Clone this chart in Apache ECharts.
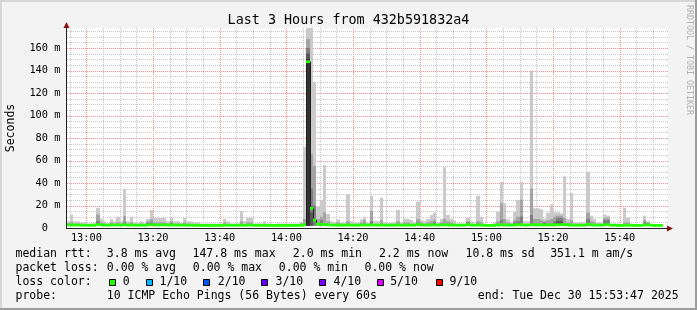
<!DOCTYPE html>
<html>
<head>
<meta charset="utf-8">
<script src="https://cdn.jsdelivr.net/npm/echarts@6/dist/echarts.min.js"></script>
<style>
html,body{margin:0;padding:0;background:#f3f3f3;}
#chart{width:697px;height:310px;}
</style>
</head>
<body>
<div id="chart"></div>
<script>
// ---------------- data (minutes relative to 13:00, one bucket per minute) ----------------
const startMinute = -6;           // first bucket 12:54
const rttLow = [
1.9,1.9,1.9,1.9,1.9,1.9,
1.9,1.9,1.9,1.9,1.9,1.9,1.9,1.9,1.9,1.9,
1.9,1.9,1.9,1.9,1.9,1.9,1.9,1.9,1.9,1.9,
1.9,1.9,1.9,1.9,1.9,1.9,1.9,1.9,1.9,1.9,
1.9,1.9,1.9,1.9,1.9,1.9,1.9,1.9,1.9,1.9,
1.9,1.9,1.9,1.9,1.9,1.9,1.9,1.9,1.9,1.9,
1.9,1.9,1.9,1.9,1.9,1.9,1.9,1.9,1.9,1.9,
1.9,1.9,1.9,1.9,1.9,1.9,2.0,2.0,2.0,1.9,
1.9,1.9,1.9,1.9,1.9,1.9,1.9,1.9,1.9,1.9,
1.9,1.9,1.9,1.9,1.9,1.9,1.9,1.9,1.9,1.9,
1.9,1.9,1.9,1.9,1.9,1.9,1.9,1.9,1.9,1.9,
1.9,1.9,1.9,1.9,1.9,1.9,1.9,1.9,1.9,1.9,
1.9,1.9,1.9,1.9,1.9,1.9,1.9,1.9,1.9,1.9,
1.9,1.9,1.9,1.9,1.9,1.9,1.9,1.9,1.9,1.9,
1.9,1.9,1.9,1.9,1.9,1.9,1.9,1.9,1.9,1.9,
1.9,1.9,1.9,1.9,1.9,1.9,1.9,1.9,1.9,1.9,
1.9,1.9,1.9,1.9,1.9,1.9,1.9,1.9,1.9,1.9,
1.9,1.9,1.9,1.9,1.9,1.9,1.9,1.9,1.9,1.9,
1.9,1.9,1.9,null];
const rttHigh = [
6,12,6,6,5,5,
4,4,4.5,18,8,6,4.5,8,6,10,
6,34.7,6,10,5,4.5,6,4.5,8,16,
9,9,9,9,6,9.5,6,6,4.5,9,
6,6,5,5,4,4,4,4,4,4,
4,8,6,4,4,4,15,6,9,9,
4,4,4,6,4,4,3.5,4,4,4,
4,4,4,4,5,72,178,178,130,19,
25,56,12.6,6,5,7.7,5,5,30,6,
5,5,7.7,9.7,5,28.7,6,6,27,5,
4.5,5,5,16,5,8,8,7,5,23.4,
7,6,8,11.6,13.6,5,8,54,11.6,8,
6.7,4,4,4,9,6,4,28.7,10,4,
3.5,3.5,5,14.5,41,22,7.7,5,14.5,25,
41,6,6,140,17.5,17.5,16.6,8,13.6,21,
14,14,13,46,8,31,5,5,5,5,
50,11,8,5,5,12,11,4,4,4,
3.5,18,9,4,3.5,3.5,3.5,11,6,4,
3.5,3.5,3.5,null];
const rttMid = [
4,5,4,4,3.5,3.5,
null,null,null,12,5,4,null,5,4,5,
4,10.5,4,5,null,null,4,null,6,8,
5,5,5,5,4,6,4,4,null,5,
4,null,null,null,null,null,null,null,null,null,
null,5,null,null,null,null,6,null,5,5,
null,null,null,null,null,null,null,null,null,null,
null,null,null,null,4,8,168,66,55,8,
10,14,6,null,null,5,null,null,6,null,
null,null,5,7,null,15,null,null,7,null,
null,null,null,6,null,5,5,null,null,8,
5,null,5,6,7,null,5,8,6,5,
null,null,null,null,6,null,null,6,5,null,
null,null,null,6,22,8,5,null,7,10,
25,null,null,35,8,8,7,6,7,8,
10,11,11,9,5,7,null,null,null,null,
13.6,6,5,null,null,9,9,null,null,null,
null,5,5,null,null,null,null,7,5,null,
null,null,null,null];
const rttMedian = [
2.8,2.8,2.6,2.6,2.5,2.5,
2.4,2.4,2.5,3.0,2.7,2.6,2.5,2.8,2.6,2.7,
2.6,2.9,2.6,2.7,2.5,2.5,2.5,2.4,2.7,3.0,
2.7,2.7,2.8,2.7,2.6,2.8,2.6,2.6,2.5,2.7,
2.5,2.5,2.4,2.4,2.3,2.3,2.3,2.3,2.3,2.3,
2.3,2.6,2.5,2.4,2.4,2.5,2.6,2.4,2.6,2.6,
2.4,2.4,2.4,2.4,2.3,2.3,2.3,2.3,2.3,2.3,
2.3,2.3,2.3,2.3,2.4,3.0,147.8,17.5,7,3.5,
3.2,3.0,2.8,2.6,2.6,2.6,2.5,2.5,2.7,2.5,
2.5,2.5,2.6,2.7,2.6,2.8,2.6,2.6,2.7,2.5,
2.5,2.5,2.5,2.7,2.5,2.6,2.6,2.6,2.5,3.2,
2.7,2.6,2.6,2.7,2.8,2.6,2.7,2.8,2.7,2.6,
2.6,2.5,2.5,2.5,3.0,2.6,2.5,2.7,2.6,2.4,
2.3,2.3,2.4,2.6,2.9,2.7,2.6,2.5,2.7,2.9,
3.0,2.6,2.6,3.0,2.8,2.8,2.7,2.7,2.7,2.8,
2.8,2.9,3.0,2.9,2.7,2.7,2.5,2.5,2.5,2.5,
3.3,2.7,2.6,2.5,2.5,2.9,3.0,2.4,2.4,2.3,
2.3,2.5,2.5,2.3,2.3,2.3,2.3,2.8,2.7,2.4,
2.3,2.3,2.3,null];
// darker smoke layers (sparse: minute -> top value)
const p8Minutes = [3,11,18,19,25,66,67,68,70,85,99,104,114,124,128,129,130,133,137,140,141,142,150,155,156,167,168];
const p8Values  = [6,5,4.5,5,4.5,160,35,20,7,6,5,5,5,7,5,6,10,11.6,5,6,9,9,8,7,7,5,4];
const p7Minutes = [66,67,141,142];
const p7Values  = [155,14,6,6];
const p6Minutes = [66];
const p6Values  = [150];

const xTickMinutes = [0,20,40,60,80,100,120,140,160];
const xTickLabels = ['13:00','13:20','13:40','14:00','14:20','14:40','15:00','15:20','15:40'];
const yTicks = [0,20,40,60,80,100,120,140,160];

const titleText = 'Last 3 Hours from 432b591832a4';
const statsRtt  = ['median rtt:','3.8 ms avg','147.8 ms max','2.0 ms min','2.2 ms now','10.8 ms sd','351.1 m am/s'];
const statsLoss = ['packet loss:','0.00 % avg','0.00 % max','0.00 % min','0.00 % now'];
const lossLabels = ['0','1/10','2/10','3/10','4/10','5/10','9/10'];
const lossColors = ['#26ff00','#00b8ff','#0059ff','#5e00ff','#7e00ff','#dd00ff','#ff0000'];
const probeText = ['probe:','10 ICMP Echo Pings (56 Bytes) every 60s','end: Tue Dec 30 15:53:47 2025'];

// ---------------- layout / style ----------------
const FONT = '"DejaVu Sans Mono", monospace';
const yMax = 177.78;
const xMin = -6, xMax = 174.3;
const smokeColors = ['#cacaca','#a4a4a4','#7e7e7e','#585858','#323232'];
const medianHalf = yMax / 200 * 1.4;

const times = rttHigh.map((_, i) => startMinute + i);
function sparse(mins, vals) {
  const a = times.map(() => null);
  mins.forEach((m, k) => { a[m - startMinute] = vals[k]; });
  return a;
}
const p8 = sparse(p8Minutes, p8Values), p7 = sparse(p7Minutes, p7Values), p6 = sparse(p6Minutes, p6Values);
const smokeData = times.map((t, i) => [t, rttLow[i], rttHigh[i], rttMid[i], p8[i], p7[i], p6[i]]);
const medianData = times.map((t, i) => [t, rttMedian[i], i > 0 ? rttMedian[i - 1] : null]);

const gridData = [];
for (let m = -5; m <= 170; m += 5) gridData.push([m, 0, xTickMinutes.indexOf(m) >= 0 ? 1 : 0]);
for (let v = 5; v <= 175; v += 5) gridData.push([xMin, v, yTicks.indexOf(v) >= 0 ? 3 : 2]);

function bucketX(api, cs, t) {
  const xa = Math.round(api.coord([t, 0])[0]);
  const xb = Math.round(api.coord([t + 1, 0])[0]);
  return [Math.max(xa, Math.floor(cs.x) + 1), Math.min(xb, Math.floor(cs.x + cs.width) + 1)];
}

function renderSmoke(params, api) {
  const cs = params.coordSys;
  const t = api.value(0), lo = api.value(1);
  if (isNaN(lo)) return;
  const [l, r] = bucketX(api, cs, t);
  if (r <= l) return;
  const yBot = api.coord([t, lo])[1];
  const children = [];
  for (let k = 0; k < smokeColors.length; k++) {
    const v = api.value(2 + k);
    if (v == null || isNaN(v)) continue;
    const yTop = Math.max(cs.y, api.coord([t, Math.min(v, yMax)])[1]);
    children.push({type: 'rect', shape: {x: l, y: yTop, width: r - l, height: yBot - yTop}, style: {fill: smokeColors[k]}});
  }
  return {type: 'group', children};
}

function renderMedian(params, api) {
  const cs = params.coordSys;
  const t = api.value(0), med = api.value(1), prev = api.value(2);
  if (isNaN(med)) return;
  const [l, r] = bucketX(api, cs, t);
  if (r <= l) return;
  const children = [];
  if (!isNaN(prev) && prev !== med) {
    const ya = api.coord([t, prev])[1], yb = api.coord([t, med])[1];
    children.push({type: 'line', shape: {x1: l + 0.5, y1: ya, x2: l + 0.5, y2: yb}, style: {stroke: '#202020', lineWidth: 1}});
  }
  const yTop = api.coord([t, med + medianHalf])[1];
  const yBot = api.coord([t, med - medianHalf])[1];
  children.push({type: 'rect', shape: {x: l, y: yTop, width: r - l, height: yBot - yTop}, style: {fill: lossColors[0]}});
  return {type: 'group', children};
}

// dotted grid line: a path of 1x1 pixel dots, every second pixel
function renderGrid(params, api) {
  const cs = params.coordSys;
  const kind = api.value(2);
  const major = kind === 1 || kind === 3;
  let d = '';
  if (kind <= 1) {
    const x = Math.round(api.coord([api.value(0), 0])[0]);
    for (let y = cs.y; y < cs.y + cs.height; y += 2) d += 'M' + x + ',' + y + 'h1v1h-1z';
  } else {
    const y = Math.round(api.coord([xMin, api.value(1)])[1]);
    const x0 = Math.floor(cs.x) + 1, x1 = Math.floor(cs.x + cs.width) + 1;
    for (let x = x0; x < x1; x += 2) d += 'M' + x + ',' + y + 'h1v1h-1z';
  }
  return {type: 'path', shape: {pathData: d}, style: {fill: major ? '#ff8c8c' : '#c8c8c8', stroke: null}};
}

// ---------------- graphic (legend text, frame, arrows) ----------------
const graphic = [];
function txt(x, y, s, size, color) {
  graphic.push({type: 'text', x, y, silent: true,
    style: {text: s, fill: color || '#000', font: size + 'px ' + FONT, align: 'left', verticalAlign: 'middle'}});
}
// frame
graphic.push({type: 'rect', silent: true, shape: {x: 0, y: 0, width: 697, height: 2}, style: {fill: '#d6d6d6'}});
graphic.push({type: 'rect', silent: true, shape: {x: 0, y: 0, width: 2, height: 310}, style: {fill: '#d6d6d6'}});
graphic.push({type: 'rect', silent: true, shape: {x: 0, y: 308, width: 697, height: 2}, style: {fill: '#9c9c9c'}});
graphic.push({type: 'rect', silent: true, shape: {x: 695, y: 0, width: 2, height: 310}, style: {fill: '#9c9c9c'}});
// axis arrows
graphic.push({type: 'polygon', silent: true, shape: {points: [[63.5, 28], [66.5, 22], [69.5, 28]]}, style: {fill: '#8c1010'}});
graphic.push({type: 'polygon', silent: true, shape: {points: [[667, 225.5], [673, 228.5], [667, 231.5]]}, style: {fill: '#8c1010'}});
graphic.push({type: 'line', silent: true, shape: {x1: 667, y1: 228.5, x2: 668, y2: 228.5}, style: {stroke: '#202020', lineWidth: 1}});
// y name
graphic.push({type: 'text', x: 11, y: 128, rotation: Math.PI / 2, silent: true,
  style: {text: 'Seconds', fill: '#000', font: '11.5px ' + FONT, align: 'center', verticalAlign: 'middle'}});
// watermark
graphic.push({type: 'text', x: 689.5, y: 60, rotation: -Math.PI / 2, silent: true,
  style: {text: 'RRDTOOL / TOBI OETIKER', fill: '#b0b0b0', font: '8.3px ' + FONT, align: 'center', verticalAlign: 'middle'}});
// stats lines
const rttX = [15.5, 106.8, 192.5, 292.8, 379, 465.5, 550.2];
statsRtt.forEach((s, i) => txt(rttX[i], 254.5, s, 11.5));
const lossX = [15.5, 106.8, 192.8, 278.8, 364.5];
statsLoss.forEach((s, i) => txt(lossX[i], 268.5, s, 11.5));
txt(15.5, 282.5, 'loss color:', 11.5);
const boxX = [109, 146, 203, 261, 319, 377, 436];
const lblX = [122.8, 159.5, 217.8, 275.5, 333.5, 390.2, 449.5];
lossLabels.forEach((s, i) => {
  graphic.push({type: 'rect', silent: true, shape: {x: boxX[i] + 0.5, y: 279.5, width: 6, height: 6}, style: {fill: lossColors[i], stroke: '#000', lineWidth: 1}});
  txt(lblX[i], 282.5, s, 11.5);
});
txt(15.5, 296.5, probeText[0], 11.5);
txt(106.8, 296.5, probeText[1], 11.5);
txt(477.8, 296.5, probeText[2], 11.5);

const option = {
  animation: false,
  backgroundColor: '#f3f3f3',
  title: {text: titleText, left: 'center', top: 9.5,
    textStyle: {fontFamily: FONT, fontSize: 13.4, fontWeight: 'normal', color: '#000'}},
  grid: {left: 66.4, top: 28, width: 601, height: 200, show: true, backgroundColor: '#ffffff', borderWidth: 0},
  xAxis: {type: 'value', min: xMin, max: xMax, interval: 1,
    axisLine: {show: true, onZero: false, lineStyle: {color: '#202020', width: 1}},
    axisTick: {show: false}, splitLine: {show: false},
    axisLabel: {margin: 5, fontFamily: FONT, fontSize: 10.3, color: '#000', showMinLabel: true, showMaxLabel: false,
      formatter: v => { const k = xTickMinutes.indexOf(Math.round(v * 1000) / 1000); return k >= 0 ? xTickLabels[k] : ''; }}},
  yAxis: {type: 'value', min: 0, max: yMax, interval: 20,
    axisLine: {show: true, onZero: false, lineStyle: {color: '#202020', width: 1}},
    axisTick: {show: false}, splitLine: {show: false},
    axisLabel: {margin: 6, fontFamily: FONT, fontSize: 10.3, color: '#000', showMaxLabel: false,
      formatter: v => yTicks.indexOf(v) < 0 ? '' : (v === 0 ? '0  ' : v + ' m')}},
  graphic: graphic,
  series: [
    {type: 'custom', name: 'grid', renderItem: renderGrid, data: gridData, z: 1, silent: true},
    {type: 'custom', name: 'smoke', renderItem: renderSmoke, data: smokeData, z: 2, silent: true},
    {type: 'custom', name: 'median', renderItem: renderMedian, data: medianData, z: 3, silent: true}
  ]
};
const chart = echarts.init(document.getElementById('chart'));
chart.setOption(option);
</script>
</body>
</html>
